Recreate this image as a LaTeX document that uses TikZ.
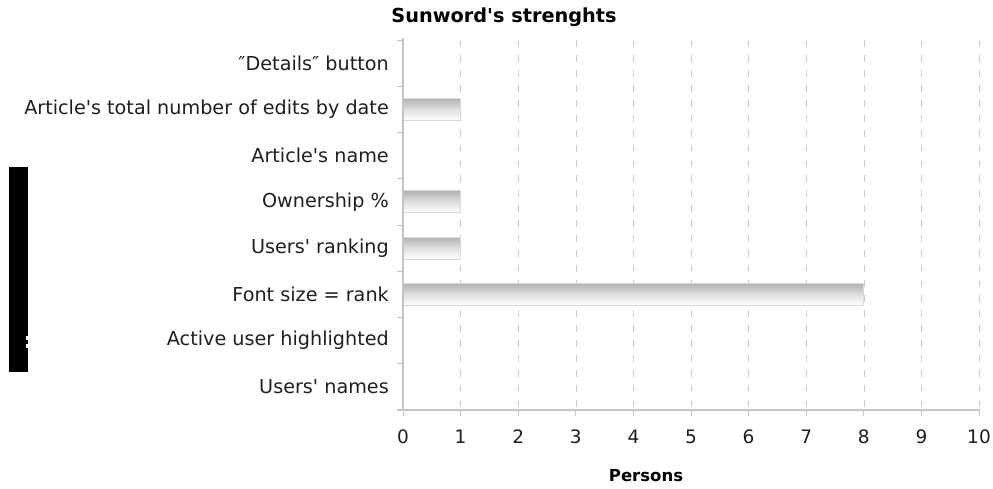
\documentclass[tikz,border=0pt]{standalone}
\usepackage{fontspec}
\newfontfamily\lblfont{DejaVu Sans}
\begin{document}
\begin{tikzpicture}[x=1pt,y=-1pt,
  lbl/.style={anchor=east, font=\lblfont\fontsize{19.2}{22}\selectfont, text=black!88, inner sep=0pt},
  numlbl/.style={anchor=center, font=\lblfont\fontsize{18.5}{22}\selectfont, text=black!88, inner sep=0pt},
  barbox/.style={draw=gray!30, line width=0.8pt, top color=gray!60, bottom color=white, middle color=gray!25},
  gridline/.style={draw=gray!40, line width=0.6pt, dash pattern=on 7pt off 8pt},
  axisline/.style={draw=gray!45, line width=1.2pt},
  tickline/.style={draw=gray!45, line width=1pt}]
\useasboundingbox (0,0) rectangle (993,488);
\fill[white] (0,0) rectangle (993,488);
% title
\node[font=\lblfont\bfseries\fontsize{19.3}{22}\selectfont, inner sep=0pt] (title) at (504,17) {Sunword's strenghts};
% grid
\foreach \i in {1,...,10} {
  \draw[gridline] ({403+57.6*\i},40) -- ({403+57.6*\i},410);
}
% bars
\def\rowh{46.25}
\foreach \r/\v in {2/1,4/1,5/1,6/8} {
  \draw[barbox] (403,{40+\rowh*(\r-0.5)-11}) rectangle ({403+57.6*\v},{40+\rowh*(\r-0.5)+11});
}
% axes
\coordinate (ytop) at (403,38);
\coordinate (orig) at (403,410);
\coordinate (xend) at (980,410);
\coordinate (xstart) at (397,410);
\draw[axisline] (ytop) -- (orig);
\draw[axisline] (xstart) -- (xend);
\foreach \k in {0,...,8} {
  \draw[tickline] (397,{40+\rowh*\k}) -- (403,{40+\rowh*\k});
}
\foreach \i in {0,...,10} {
  \draw[tickline] ({403+57.6*\i},410) -- ({403+57.6*\i},416);
  \node[numlbl] (n\i) at ({403+57.6*\i},437) {\i};
}
% category labels
\node[lbl] (l1) at (389,{40+\rowh*0.5}) {″Details″ button};
\node[lbl] (l2) at (389,{40+\rowh*1.5}) {Article's total number of edits by date};
\node[lbl] (l3) at (389,{40+\rowh*2.5}) {Article's name};
\node[lbl] (l4) at (389,{40+\rowh*3.5}) {Ownership \%};
\node[lbl] (l5) at (389,{40+\rowh*4.5}) {Users' ranking};
\node[lbl] (l6) at (389,{40+\rowh*5.5}) {Font size = rank};
\node[lbl] (l7) at (389,{40+\rowh*6.5}) {Active user highlighted};
\node[lbl] (l8) at (389,{40+\rowh*7.5}) {Users' names};
% x-axis title
\node[font=\lblfont\bfseries\fontsize{16.5}{19}\selectfont, inner sep=0pt] (xtitle) at (646,476) {Persons};
% black block at left
\fill[black] (9,167) rectangle (28,372);
\fill[white] (25.5,336) rectangle (28,340);
\fill[white] (25.5,344) rectangle (28,348);
\end{tikzpicture}
\end{document}
